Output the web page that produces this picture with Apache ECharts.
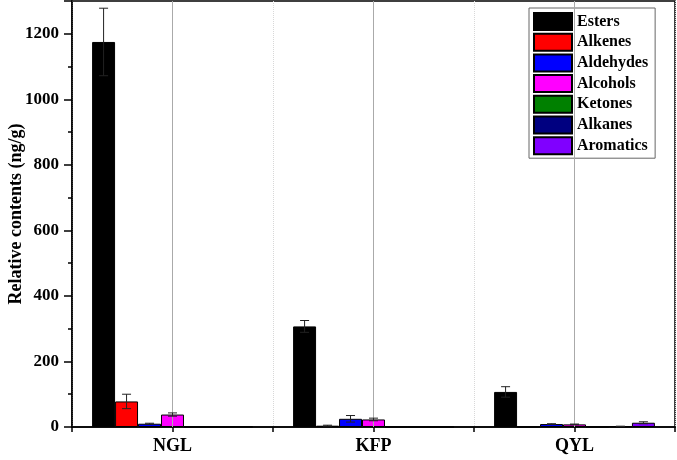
<!DOCTYPE html>
<html>
<head>
<meta charset="utf-8">
<script src="https://cdn.jsdelivr.net/npm/echarts@6/dist/echarts.min.js"></script>
<style>html,body{margin:0;padding:0;background:#fff}#c{width:677px;height:460px}</style>
</head>
<body>
<div id="c"></div>
<script>
const categories = ['NGL', 'KFP', 'QYL'];
const seriesNames = ['Esters', 'Alkenes', 'Aldehydes', 'Alcohols', 'Ketones', 'Alkanes', 'Aromatics'];
const seriesColors = ['#000000', '#ff0000', '#0000ff', '#ff00ff', '#008000', '#000080', '#8000ff'];
const esters = [1175, 307, 107];
const alkenes = [78, 4, 0.5];
const aldehydes = [10, 25, 9];
const alcohols = [38, 23, 8];
const ketones = [0.3, 0.3, 0.3];
const alkanes = [0.3, 0.3, 2];
const aromatics = [1, 0.3, 13];
const estersErr = [103, 18, 16];
const alkenesErr = [22, 1.5, 0];
const aldehydesErr = [1.5, 10, 1];
const alcoholsErr = [5, 4, 1];
const ketonesErr = [0, 0, 0];
const alkanesErr = [0, 0, 0.5];
const aromaticsErr = [0, 0, 3];
const yTicks = [0, 200, 400, 600, 800, 1000, 1200];

const values = [esters, alkenes, aldehydes, alcohols, ketones, alkanes, aromatics];
const errs = [estersErr, alkenesErr, aldehydesErr, alcoholsErr, ketonesErr, alkanesErr, aromaticsErr];

const FONT = 'Liberation Serif';
const N = seriesNames.length;
const GAP = 0.2;

const errData = [];
values.forEach((arr, s) => arr.forEach((v, i) => {
  if (errs[s][i] > 0) errData.push([i, s, v, errs[s][i]]);
}));

const chart = echarts.init(document.getElementById('c'), null, {renderer: 'canvas'});

const barSeries = seriesNames.map((name, s) => ({
  name: name,
  type: 'bar',
  xAxisIndex: 0,
  yAxisIndex: 0,
  data: values[s],
  barGap: '0%',
  barCategoryGap: (GAP * 100) + '%',
  itemStyle: {color: seriesColors[s], borderColor: '#000', borderWidth: 1},
  emphasis: {disabled: true},
  z: 3
}));

chart.setOption({
  animation: false,
  backgroundColor: '#fff',
  grid: {left: 72, right: 2, top: 1, bottom: 33, show: true, borderColor: '#000', borderWidth: 1.5,
         backgroundColor: 'transparent', containLabel: false, outerBoundsMode: 'none'},
  legend: {
    data: seriesNames,
    orient: 'vertical',
    left: 529, top: 8,
    icon: 'rect',
    itemWidth: 38, itemHeight: 17, itemGap: 1.7,
    padding: [4, 7, 3, 4],
    borderColor: '#666', borderWidth: 1,
    backgroundColor: '#fff',
    textStyle: {fontFamily: FONT, fontWeight: 'bold', fontSize: 16, lineHeight: 17, color: '#000'},
    selectedMode: false
  },
  xAxis: [{
    type: 'category',
    data: categories,
    axisLine: {lineStyle: {color: '#000', width: 1.5}},
    axisTick: {show: false},
    axisLabel: {fontFamily: FONT, fontWeight: 'bold', fontSize: 18, color: '#000', margin: 10},
    splitLine: {show: true, lineStyle: {color: '#d8d8d8', type: 'dotted', width: 1}}
  }, {
    type: 'value',
    min: 0, max: categories.length * 2, interval: 1,
    position: 'bottom',
    axisLine: {show: false},
    axisTick: {show: true, length: 5, lineStyle: {color: '#000', width: 1.5}},
    axisLabel: {show: false},
    splitLine: {show: false}
  }],
  yAxis: [{
    type: 'value',
    min: 0, max: 1300, interval: 200,
    name: 'Relative contents (ng/g)',
    nameLocation: 'middle',
    nameGap: 47,
    nameMoveOverlap: false,
    nameTextStyle: {fontFamily: FONT, fontWeight: 'bold', fontSize: 18, color: '#000'},
    axisLine: {show: true, lineStyle: {color: '#000', width: 1.5}},
    axisTick: {show: true, length: 8, lineStyle: {color: '#000', width: 1.5}},
    axisLabel: {
      fontFamily: FONT, fontWeight: 'bold', fontSize: 17, color: '#000', margin: 13,
      formatter: v => (yTicks.indexOf(v) >= 0 ? String(v) : '')
    },
    splitLine: {show: false}
  }, {
    type: 'value',
    min: 0, max: 1300, interval: 100,
    position: 'left',
    axisLine: {show: false},
    axisTick: {show: true, length: 4, lineStyle: {color: '#000', width: 1.5}},
    axisLabel: {show: false},
    splitLine: {show: false}
  }],
  series: [{
    type: 'line',
    name: 'centerLines',
    xAxisIndex: 0, yAxisIndex: 0,
    data: [null, null, null],
    showSymbol: false,
    z: 1,
    markLine: {
      silent: true,
      symbol: ['none', 'none'],
      label: {show: false},
      lineStyle: {color: '#aaaaaa', width: 1, type: 'solid'},
      data: categories.map(c => ({xAxis: c}))
    }
  }].concat(barSeries).concat([{
    type: 'custom',
    name: 'errors',
    xAxisIndex: 0, yAxisIndex: 0,
    data: errData,
    encode: {x: 0, y: 2},
    z: 5,
    renderItem: function (params, api) {
      const ci = api.value(0), s = api.value(1), v = api.value(2), e = api.value(3);
      const band = api.size([1, 0])[0];
      const bw = band * (1 - GAP) / N;
      const c = api.coord([ci, v]);
      const x = c[0] + (s - (N - 1) / 2) * bw;
      const yt = api.coord([ci, v + e])[1];
      const yb = api.coord([ci, Math.max(v - e, 0)])[1];
      const cw = 4.5;
      const st = {stroke: '#222', lineWidth: 1};
      return {
        type: 'group',
        children: [
          {type: 'line', shape: {x1: x, y1: yt, x2: x, y2: yb}, style: st},
          {type: 'line', shape: {x1: x - cw, y1: yt, x2: x + cw, y2: yt}, style: st},
          {type: 'line', shape: {x1: x - cw, y1: yb, x2: x + cw, y2: yb}, style: st}
        ]
      };
    }
  }])
});
</script>
</body>
</html>
